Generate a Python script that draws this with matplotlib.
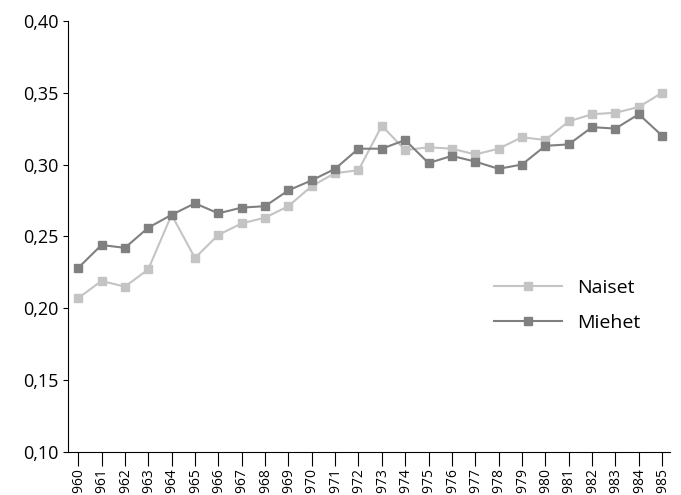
import matplotlib
matplotlib.use("Agg")
import matplotlib.pyplot as plt

years = list(range(1960, 1986))
naiset = [.207,.219,.215,.227,.265,.235,.251,.259,.263,.271,.285,.294,.296,.327,.310,.312,.311,.307,.311,.319,.317,.330,.335,.336,.340,.350]
miehet = [.228,.244,.242,.256,.265,.273,.266,.270,.271,.282,.289,.297,.311,.311,.317,.301,.306,.302,.297,.300,.313,.314,.326,.325,.335,.320]
yticks = [0.10,0.15,0.20,0.25,0.30,0.35,0.40]

plt.rcParams['font.family'] = ['Open Sans', 'DejaVu Sans']
fig = plt.figure(figsize=(6.81,4.95), dpi=100)
ax = fig.add_axes([0.100, 0.087, 0.884, 0.871])
ax.plot(years, naiset, color='#c4c4c4', marker='s', ms=6, lw=1.5, label='Naiset')
ax.plot(years, miehet, color='#808080', marker='s', ms=6, lw=1.5, label='Miehet')
ax.set_xlim(1959.57, 1985.34)
ax.set_ylim(0.10, 0.40)
ax.set_yticks(yticks)
ax.set_yticklabels([f"{v:.2f}".replace('.', ',') for v in yticks], fontsize=13)
ax.set_xticks(years)
ax.set_xticklabels([str(y) for y in years], rotation=90, fontsize=10)
ax.tick_params(axis='x', length=10, direction='out', pad=1)
for s in ['top','right']:
    ax.spines[s].set_visible(False)
ax.legend(loc='center right', bbox_to_anchor=(0.98, 0.34), frameon=False, fontsize=14, handlelength=3.5, labelspacing=0.9)
fig.savefig('out.png')
